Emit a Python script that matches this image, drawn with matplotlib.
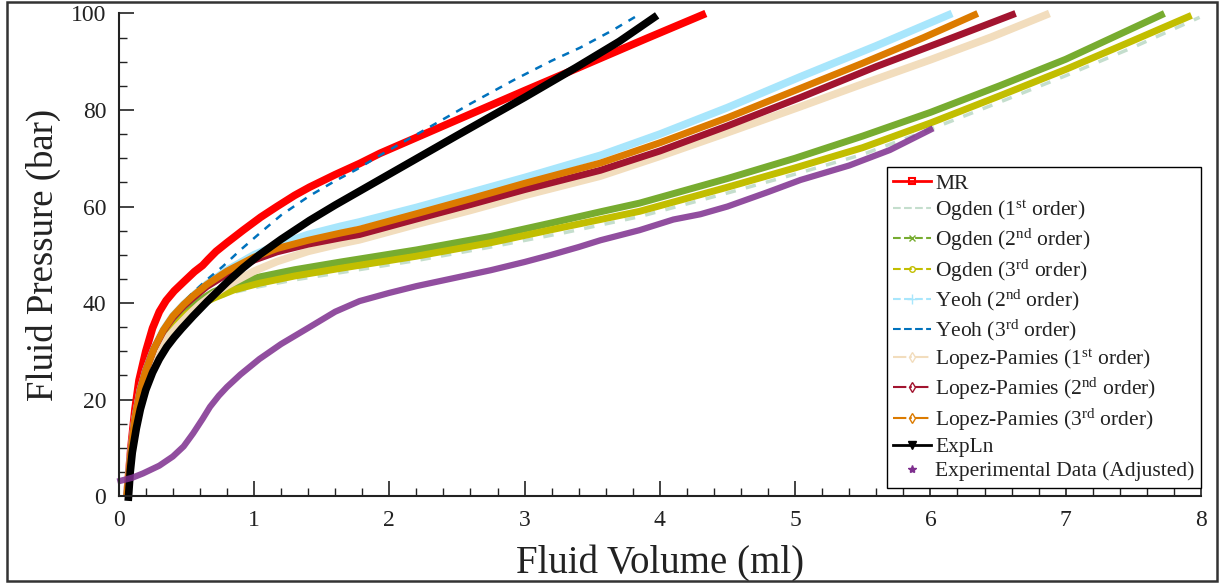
import matplotlib.pyplot as plt
from matplotlib.lines import Line2D
from matplotlib.patches import Rectangle
from matplotlib.ticker import MultipleLocator

plt.rcParams['font.family'] = ['Liberation Serif', 'DejaVu Serif']
plt.rcParams['mathtext.fontset'] = 'custom'
plt.rcParams['mathtext.rm'] = 'Liberation Serif'
plt.rcParams['mathtext.it'] = 'Liberation Serif:italic'

# curves (volume in ml, pressure in bar)
mr_x = [0.06, 0.09, 0.12, 0.15, 0.2, 0.25, 0.3, 0.35, 0.41, 0.477, 0.56, 0.62, 0.66, 0.72, 0.8, 0.92, 1.05, 1.17, 1.3, 1.41, 1.6, 1.78, 1.93, 2.3, 2.67, 3.0, 3.41, 3.9, 4.34]
mr_y = [0, 10, 18, 24, 30.0, 34.8, 38.2, 40.5, 42.5, 44.3, 46.5, 47.8, 49.0, 50.7, 52.5, 55.1, 57.8, 60.0, 62.3, 64.0, 66.6, 68.9, 71.0, 75.5, 80.0, 84.0, 88.9, 94.8, 100]

og1_x = [0.06, 0.1, 0.15, 0.2, 0.3, 0.4, 0.5, 0.6, 0.7, 0.85, 1.04, 1.3, 1.64, 2.2, 2.75, 3.3, 3.85, 4.5, 5.0, 5.5, 6.0, 6.51, 7.0, 7.5, 7.99]
og1_y = [0, 11, 19, 24, 30.3, 34.5, 37.4, 39.4, 40.8, 42.2, 43.4, 44.8, 46.3, 48.8, 51.6, 54.6, 57.9, 62.8, 66.7, 70.8, 76.0, 81.6, 87.1, 93.0, 99.2]

og2_x = [0.06, 0.1, 0.15, 0.2, 0.3, 0.4, 0.5, 0.6, 0.7, 0.85, 1.04, 1.3, 1.64, 2.2, 2.75, 3.2, 3.56, 3.85, 4.5, 5.0, 5.5, 6.0, 6.51, 7.0, 7.73]
og2_y = [0, 11, 19, 24, 30.5, 35, 38.3, 40.6, 42.3, 44.0, 45.4, 46.9, 48.5, 51.0, 53.8, 56.6, 58.9, 60.7, 65.8, 70.0, 74.6, 79.5, 85.0, 90.5, 100]

og3_x = [0.06, 0.1, 0.15, 0.2, 0.3, 0.4, 0.5, 0.6, 0.7, 0.85, 1.04, 1.3, 1.64, 2.2, 2.75, 3.2, 3.56, 3.85, 4.5, 5.0, 5.5, 6.0, 6.51, 7.0, 7.5, 7.93]
og3_y = [0, 11, 19, 24, 30.2, 34.7, 37.7, 39.6, 41.0, 42.7, 44.1, 45.6, 47.2, 49.7, 52.5, 55.2, 57.3, 59.0, 64.0, 68.0, 72.2, 77.3, 82.9, 88.4, 94.4, 99.6]

yeoh2_x = [0.06, 0.09, 0.12, 0.16, 0.2, 0.26, 0.33, 0.4, 0.48, 0.55, 0.65, 0.8, 1.0, 1.17, 1.4, 1.64, 1.78, 2.2, 2.6, 3.0, 3.56, 4.0, 4.5, 5.04, 5.6, 6.16]
yeoh2_y = [0, 9, 16, 22, 26, 30.5, 34.4, 37.3, 39.7, 41.5, 43.9, 46.8, 50.0, 52.0, 54.2, 55.9, 56.8, 59.8, 62.9, 66.0, 70.6, 75.0, 80.5, 86.9, 93.3, 100]

yeoh3_x = [0.06, 0.09, 0.12, 0.16, 0.2, 0.26, 0.33, 0.4, 0.48, 0.55, 0.65, 0.77, 0.9, 1.04, 1.2, 1.41, 1.6, 1.76, 1.93, 2.1, 2.30, 2.6, 2.92, 3.2, 3.41, 3.65, 3.86]
yeoh3_y = [0, 9, 16, 22, 26, 30.5, 34.4, 37.4, 40.2, 42.2, 44.8, 47.6, 51.0, 54.4, 58.2, 62.2, 65.3, 67.7, 70.6, 73.3, 76.5, 81.3, 86.2, 90.2, 92.9, 96.5, 100]

lp1_x = [0.06, 0.09, 0.12, 0.16, 0.2, 0.26, 0.33, 0.43, 0.52, 0.6, 0.7, 0.8, 1.0, 1.17, 1.4, 1.64, 1.78, 2.2, 2.6, 3.0, 3.56, 4.0, 4.5, 5.04, 5.5, 6.0, 6.45, 6.88]
lp1_y = [0, 8, 14.5, 20, 24, 28.5, 31.8, 35.0, 37.6, 39.7, 41.8, 43.6, 46.6, 48.6, 50.7, 52.3, 53.1, 56.3, 59.2, 62.3, 66.3, 70.4, 75.3, 80.7, 85.4, 90.4, 95.1, 100]

lp2_x = [0.06, 0.09, 0.12, 0.16, 0.2, 0.26, 0.33, 0.4, 0.48, 0.55, 0.65, 0.8, 1.0, 1.17, 1.4, 1.64, 1.78, 2.2, 2.6, 3.0, 3.56, 4.0, 4.5, 5.04, 5.6, 6.1, 6.63]
lp2_y = [0, 9, 16, 22, 26, 30.5, 34.2, 37.0, 39.4, 41.1, 43.4, 46.0, 48.9, 50.6, 52.2, 53.5, 54.2, 57.4, 60.4, 63.5, 67.5, 71.5, 76.7, 82.6, 89.0, 94.3, 100]

lp3_x = [0.06, 0.09, 0.12, 0.16, 0.2, 0.26, 0.33, 0.4, 0.48, 0.55, 0.65, 0.8, 1.0, 1.17, 1.4, 1.64, 1.78, 2.2, 2.6, 3.0, 3.56, 4.0, 4.5, 5.04, 5.5, 5.95, 6.35]
lp3_y = [0, 9, 16, 22, 26, 30.5, 34.4, 37.3, 39.7, 41.5, 43.8, 46.6, 49.5, 51.3, 53.0, 54.5, 55.3, 58.5, 61.6, 64.8, 69.0, 73.2, 78.4, 84.5, 89.7, 95.0, 100]

expln_x = [0.07, 0.085, 0.1, 0.13, 0.16, 0.2, 0.25, 0.3, 0.355, 0.41, 0.465, 0.55, 0.65, 0.8, 0.92, 1.04, 1.2, 1.41, 1.6, 1.8, 2.0, 2.5, 3.0, 3.38, 3.7, 3.98]
expln_y = [-1, 5, 9, 14, 18, 22, 25.6, 28.4, 30.9, 32.9, 34.7, 37.3, 40.2, 44.3, 47.3, 50.0, 53.2, 57.1, 60.3, 63.5, 66.7, 74.7, 82.6, 88.8, 94.2, 99.6]

exp_x = [-0.01, 0.1, 0.18, 0.3, 0.40, 0.48, 0.55, 0.62, 0.675, 0.74, 0.80, 0.9, 1.04, 1.2, 1.41, 1.6, 1.78, 2.0, 2.2, 2.5, 2.75, 3.0, 3.2, 3.4, 3.56, 3.85, 4.1, 4.3, 4.5, 4.8, 5.04, 5.4, 5.70, 6.02]
exp_y = [3.0, 3.8, 4.7, 6.3, 8.2, 10.3, 13.0, 16.0, 18.5, 20.8, 22.6, 25.2, 28.4, 31.5, 35.0, 38.2, 40.4, 42.1, 43.5, 45.3, 46.8, 48.5, 50.0, 51.6, 53.0, 55.1, 57.3, 58.4, 60.0, 63.0, 65.5, 68.5, 71.7, 76.2]

c_mr = '#FF0000'
c_og1 = '#C4DECD'
c_og2 = '#77AC30'
c_og3 = '#C2BE00'
c_yeoh2 = '#A8E6FC'
c_yeoh3 = '#0072BD'
c_lp1 = '#F2DDBD'
c_lp2 = '#A2142F'
c_lp3 = '#DC7B00'
c_exp = '#7E2F8E'

fig = plt.figure(figsize=(12.19, 5.85), dpi=100)
ax = fig.add_axes([0.0974, 0.152, 0.8878, 0.825])

kw = dict(clip_on=False, solid_joinstyle='round', solid_capstyle='butt')
ax.plot(mr_x, mr_y, color=c_mr, lw=5.5, **kw)
ax.plot(og1_x, og1_y, color=c_og1, lw=2.5, ls=(0, (3, 3)), clip_on=False)
ax.plot(og2_x, og2_y, color=c_og2, lw=5, **kw)
ax.plot(og3_x, og3_y, color=c_og3, lw=5, **kw)
ax.plot(yeoh2_x, yeoh2_y, color=c_yeoh2, lw=5.5, **kw)
ax.plot(yeoh3_x, yeoh3_y, color=c_yeoh3, lw=1.8, ls=(0, (3, 3)), clip_on=False)
ax.plot(lp1_x, lp1_y, color=c_lp1, lw=5.5, **kw)
ax.plot(lp2_x, lp2_y, color=c_lp2, lw=5, **kw)
ax.plot(lp3_x, lp3_y, color=c_lp3, lw=5, **kw)
ax.plot(expln_x, expln_y, color='black', lw=5.5, **kw)
ax.plot(exp_x, exp_y, color=c_exp, lw=4.5, alpha=0.85, **kw)

ax.set_xlim(0, 8)
ax.set_ylim(0, 100)
ax.xaxis.set_major_locator(MultipleLocator(1))
ax.xaxis.set_minor_locator(MultipleLocator(0.2))
ax.yaxis.set_major_locator(MultipleLocator(20))
ax.yaxis.set_minor_locator(MultipleLocator(5))
ax.tick_params(which='major', direction='in', length=11, width=1.2, labelsize=17, colors='#222222')
ax.tick_params(axis='y', which='major', pad=9)
ax.tick_params(axis='x', which='major', pad=10)
ax.tick_params(which='minor', direction='in', length=5.5, width=1.0, colors='#222222')
for s in ['top', 'right']:
    ax.spines[s].set_visible(False)
for s in ['left', 'bottom']:
    ax.spines[s].set_linewidth(1.5)
    ax.spines[s].set_color('#222222')

ax.set_xlabel('Fluid Volume (ml)', fontsize=28, color='#222222', labelpad=10)
ax.set_ylabel('Fluid Pressure (bar)', fontsize=26.5, color='#222222', labelpad=7)

handles = [
    Line2D([], [], color=c_mr, lw=2, marker='s', ms=5, mfc='none', mew=1.5),
    Line2D([], [], color=c_og1, lw=1.5, ls='--'),
    Line2D([], [], color=c_og2, lw=1.5, ls='--', marker='x', ms=5),
    Line2D([], [], color=c_og3, lw=1.5, ls='--', marker='o', ms=4, mfc='none'),
    Line2D([], [], color=c_yeoh2, lw=1.5, ls='--', marker='+', ms=7),
    Line2D([], [], color=c_yeoh3, lw=1.5, ls='--'),
    Line2D([], [], color=c_lp1, lw=1.5, ls='-.', marker='d', ms=5, mfc='none'),
    Line2D([], [], color=c_lp2, lw=1.5, ls='-.', marker='d', ms=5, mfc='none'),
    Line2D([], [], color=c_lp3, lw=1.5, ls='-.', marker='d', ms=5, mfc='none'),
    Line2D([], [], color='black', lw=2, marker='v', ms=6),
    Line2D([], [], color=c_exp, lw=0, marker='*', ms=6),
]
labels = [
    'MR',
    r'Ogden (1$^{\mathrm{st}}$ order)',
    r'Ogden (2$^{\mathrm{nd}}$ order)',
    r'Ogden (3$^{\mathrm{rd}}$ order)',
    r'Yeoh (2$^{\mathrm{nd}}$ order)',
    r'Yeoh (3$^{\mathrm{rd}}$ order)',
    r'Lopez-Pamies (1$^{\mathrm{st}}$ order)',
    r'Lopez-Pamies (2$^{\mathrm{nd}}$ order)',
    r'Lopez-Pamies (3$^{\mathrm{rd}}$ order)',
    'ExpLn',
    'Experimental Data (Adjusted)',
]
leg = ax.legend(handles, labels, loc='lower right', bbox_to_anchor=(1.0, 0.017),
                borderaxespad=0, fontsize=15.5, frameon=True, fancybox=False,
                edgecolor='black', framealpha=1, handlelength=1.75,
                handletextpad=0.2, labelspacing=0.2, borderpad=0.3)
leg.get_frame().set_linewidth(1.0)
for t in leg.get_texts():
    t.set_color('#222222')

fig.add_artist(Rectangle((0.006, 0.006), 0.992, 0.99, transform=fig.transFigure,
                         fill=False, lw=1.8, ec='#333333'))

fig.savefig('out.png', dpi=100)
